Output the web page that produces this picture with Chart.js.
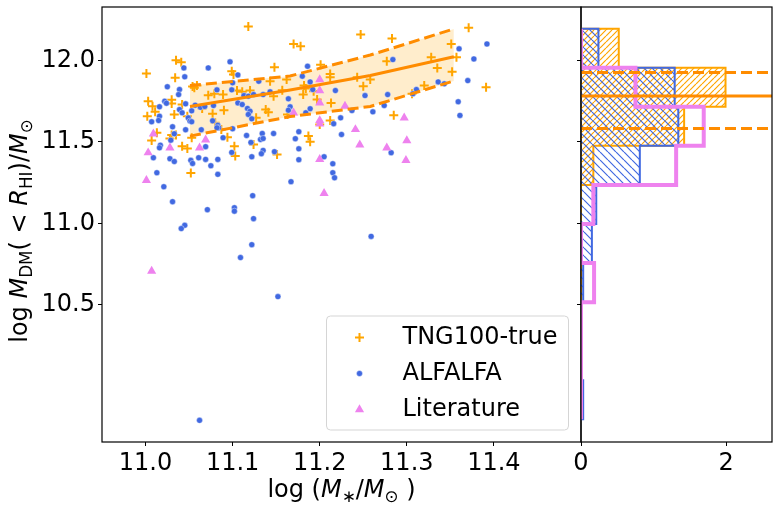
<!DOCTYPE html>
<html><head><meta charset="utf-8">
<script src="https://cdn.jsdelivr.net/npm/chart.js@4"></script>
<style>
html,body{margin:0;padding:0;background:#fff;}
#wrap{position:relative;width:778px;height:512px;}
canvas{position:absolute;left:0;top:0;}
</style></head><body>
<div id="wrap"><canvas id="main" width="778" height="512"></canvas><canvas id="hist" width="778" height="512"></canvas></div>
<script>
// ---------------- data ----------------
const tngX = [11.118,11.001,11.035,11.041,11.034,11.099,11.101,11.054,11.059,11.056,11.072,11.079,11.089,11.105,11.111,11.120,11.003,11.008,11.030,11.030,11.011,11.002,11.033,11.042,11.048,11.065,11.077,11.090,11.080,11.013,11.007,11.030,11.035,11.028,11.042,11.048,11.053,11.087,11.094,11.102,11.103,11.052,11.124,11.247,11.170,11.178,11.148,11.201,11.212,11.212,11.162,11.143,11.182,11.184,11.193,11.157,11.181,11.147,11.243,11.250,11.197,11.213,11.138,11.141,11.163,11.127,11.212,11.200,11.187,11.189,11.151,11.371,11.283,11.351,11.277,11.328,11.357,11.335,11.352,11.258,11.391,11.320,11.306,11.285];
const tngY = [12.209,11.920,12.002,11.990,11.894,11.934,11.914,11.840,11.847,11.833,11.787,11.796,11.791,11.816,11.808,11.816,11.750,11.720,11.759,11.736,11.685,11.658,11.669,11.730,11.658,11.706,11.673,11.695,11.618,11.556,11.509,11.542,11.542,11.521,11.474,11.460,11.526,11.577,11.529,11.474,11.413,11.309,11.485,12.160,12.102,12.088,11.959,11.975,11.918,11.898,11.883,11.873,11.847,11.828,11.812,11.818,11.791,11.781,11.898,11.842,11.761,11.740,11.699,11.683,11.669,11.648,11.632,11.607,11.536,11.501,11.423,12.201,12.135,12.102,11.996,12.020,12.020,11.955,11.931,11.883,11.836,11.847,11.796,11.664];

const alfalfaX = [11.097,11.072,11.044,11.045,11.106,11.025,11.100,11.039,11.038,11.082,11.099,11.113,11.118,11.124,11.022,11.024,11.046,11.057,11.063,11.068,11.078,11.106,11.111,11.016,11.039,11.042,11.053,11.117,11.120,11.118,11.122,11.016,11.015,11.007,11.049,11.051,11.053,11.077,11.083,11.084,11.082,11.031,11.046,11.064,11.100,11.033,11.029,11.089,11.069,11.017,11.016,11.121,11.116,11.099,11.009,11.028,11.033,11.052,11.054,11.061,11.069,11.083,11.075,11.122,11.013,11.083,11.021,11.031,11.123,11.071,11.102,11.102,11.124,11.045,11.041,11.186,11.180,11.189,11.130,11.143,11.135,11.192,11.218,11.252,11.164,11.166,11.164,11.184,11.189,11.237,11.224,11.216,11.134,11.147,11.132,11.135,11.176,11.172,11.225,11.176,11.135,11.133,11.148,11.176,11.205,11.215,11.215,11.217,11.167,11.360,11.392,11.284,11.377,11.370,11.336,11.343,11.311,11.307,11.278,11.274,11.261,11.359,11.361,11.282,11.122,11.109,11.152,11.062,11.259];
const alfalfaY = [11.992,11.955,11.955,11.900,11.912,11.839,11.863,11.822,11.791,11.820,11.820,11.785,11.781,11.791,11.750,11.738,11.734,11.726,11.713,11.718,11.724,11.740,11.730,11.716,11.699,11.679,11.691,11.706,11.689,11.669,11.642,11.658,11.632,11.624,11.648,11.628,11.624,11.630,11.603,11.587,11.587,11.593,11.575,11.575,11.581,11.550,11.511,11.526,11.471,11.480,11.464,11.497,11.540,11.436,11.403,11.397,11.380,11.387,11.368,11.403,11.393,11.393,11.354,11.409,11.311,11.301,11.225,11.133,11.170,11.084,11.096,11.075,11.029,10.988,10.968,11.965,11.904,11.869,11.873,11.808,11.791,11.822,11.816,11.785,11.765,11.716,11.695,11.679,11.704,11.693,11.648,11.612,11.552,11.552,11.515,11.521,11.563,11.520,11.546,11.458,11.448,11.428,11.440,11.391,11.409,11.366,11.311,11.280,11.256,12.072,12.102,12.006,12.010,11.877,11.869,11.857,11.822,11.796,11.791,11.724,11.685,11.747,11.663,11.434,10.869,10.790,10.550,9.790,10.920];

const litX = [11.009,11.003,11.028,11.062,11.069,11.001,11.200,11.200,11.200,11.229,11.170,11.200,11.200,11.241,11.246,11.200,11.205,11.297,11.300,11.277,11.299,11.007];
const litY = [11.550,11.434,11.464,11.464,11.513,11.264,11.883,11.816,11.740,11.720,11.679,11.632,11.612,11.577,11.482,11.393,11.184,11.648,11.509,11.464,11.387,10.707];

// running median and 16/84 percentile band of TNG100-true
const fitX   = [11.051, 11.166, 11.258, 11.354];
const fitMid = [11.718, 11.819, 11.908, 12.023];
const fitHi  = [11.847, 11.905, 12.034, 12.194];
const fitLo  = [11.536, 11.656, 11.718, 11.875];

// histograms (density), bins from top to bottom
const histEdges   = [12.196, 11.956, 11.716, 11.476, 11.236, 10.996, 10.756, 10.516, 10.276, 10.036, 9.796];
const tngHist     = [0.52, 1.99, 1.42, 0.17, 0, 0, 0, 0, 0, 0];
const alfalfaHist = [0.24, 1.29, 1.34, 0.81, 0.21, 0.15, 0.03, 0, 0, 0.03];
const litHist     = [0, 0.75, 1.69, 1.31, 0.17, 0, 0.18, 0, 0, 0];
const histMed = 11.783, histHi = 11.926, histLo = 11.583;

const xTicks = [11.0, 11.1, 11.2, 11.3, 11.4];
const yTicks = [10.5, 11.0, 11.5, 12.0];
const histTicks = [0, 2];

const X_MIN = 10.95, X_MAX = 11.5, Y_MIN = 9.657, Y_MAX = 12.329, H_MAX = 2.63;

// ---------------- helpers ----------------
const FAM = '"DejaVu Sans", sans-serif';
const FS = 24;
const pts = (xs, ys) => xs.map((x, i) => ({x, y: ys[i]}));
function stepPoly(edges, vals) {
  const p = [{x: 0, y: edges[0]}];
  vals.forEach((v, i) => { p.push({x: v, y: edges[i]}); p.push({x: v, y: edges[i + 1]}); });
  p.push({x: 0, y: edges[edges.length - 1]});
  return p;
}
function hatch(color, size, dir) {
  const c = document.createElement('canvas'); c.width = c.height = size;
  const g = c.getContext('2d'); g.strokeStyle = color; g.lineWidth = 1.2; g.beginPath();
  for (const k of [-size, 0, size]) {
    if (dir === '/') { g.moveTo(k, size); g.lineTo(k + size, 0); }
    else { g.moveTo(k, 0); g.lineTo(k + size, size); }
  }
  g.stroke();
  return g.createPattern(c, 'repeat');
}
function drawMath(ctx, segs, cx, by, size) {
  const fonts = segs.map(s => (s.it ? 'italic ' : '') + (s.sub ? size * 0.7 : size) + 'px ' + FAM);
  const widths = segs.map((s, i) => { ctx.font = fonts[i]; return ctx.measureText(s.t).width; });
  let x = cx - widths.reduce((a, b) => a + b, 0) / 2;
  ctx.textAlign = 'left'; ctx.textBaseline = 'alphabetic'; ctx.fillStyle = '#000';
  segs.forEach((s, i) => { ctx.font = fonts[i]; ctx.fillText(s.t, x, by + (s.sub ? size * 0.2 : 0)); x += widths[i]; });
}
const framePlugin = {
  id: 'frame',
  afterDraw(chart) {
    const a = chart.chartArea, ctx = chart.ctx;
    ctx.save(); ctx.strokeStyle = '#000'; ctx.lineWidth = 1.2;
    ctx.strokeRect(a.left, a.top, a.right - a.left, a.bottom - a.top);
    ctx.restore();
  }
};
const noPad = s => { s.paddingTop = 0; s.paddingBottom = 0; s.paddingLeft = 0; s.paddingRight = 0; };
const tickOpts = (list, fmt) => ({
  afterBuildTicks: s => { s.ticks = list.map(v => ({value: v})); },
  ticks: {font: {family: FAM, size: FS}, color: '#000', padding: 3, autoSkip: false, maxRotation: 0, callback: fmt},
  grid: {drawOnChartArea: false, drawTicks: true, tickLength: 4, color: '#000', lineWidth: 1},
  border: {display: false}
});

// ---------------- main scatter panel ----------------
const labelsPlugin = {
  id: 'mathLabels',
  afterDraw(chart) {
    const ctx = chart.ctx, a = chart.chartArea;
    ctx.save();
    drawMath(ctx, [{t: 'log ('}, {t: 'M', it: 1}, {t: '\u2217', sub: 1}, {t: '/'}, {t: 'M', it: 1}, {t: '\u2299', sub: 1}, {t: ' )'}],
      (a.left + a.right) / 2, 497, FS);
    ctx.translate(27, 231);
    ctx.rotate(-Math.PI / 2);
    drawMath(ctx, [{t: 'log '}, {t: 'M', it: 1}, {t: 'DM', sub: 1}, {t: '( < '}, {t: 'R', it: 1}, {t: 'HI', sub: 1}, {t: ')/'}, {t: 'M', it: 1}, {t: '\u2299', sub: 1}],
      0, 0, FS);
    ctx.restore();
  }
};
const legendPlugin = {
  id: 'boxLegend',
  afterDraw(chart) {
    const ctx = chart.ctx, a = chart.chartArea;
    const w = 242, h = 114, x0 = a.right - 12.5 - w, y0 = a.bottom - 12 - h;
    ctx.save();
    ctx.beginPath(); ctx.roundRect(x0, y0, w, h, 4);
    ctx.fillStyle = 'rgba(255,255,255,0.8)'; ctx.fill();
    ctx.strokeStyle = '#d5d5d5'; ctx.lineWidth = 1; ctx.stroke();
    [3, 4, 5].forEach((di, k) => {
      const ds = chart.data.datasets[di];
      const base = y0 + 27.5 + k * 36;
      ctx.fillStyle = ds.pointBackgroundColor; ctx.strokeStyle = ds.pointBorderColor; ctx.lineWidth = ds.pointBorderWidth;
      Chart.helpers.drawPoint(ctx, {pointStyle: ds.pointStyle, radius: ds.pointRadius, borderWidth: ds.pointBorderWidth, rotation: 0}, x0 + 33, base - 6);
      ctx.font = FS + 'px ' + FAM; ctx.fillStyle = '#000'; ctx.textAlign = 'left'; ctx.textBaseline = 'alphabetic';
      ctx.fillText(ds.label, x0 + 76, base);
    });
    ctx.restore();
  }
};

new Chart(document.getElementById('main'), {
  type: 'scatter',
  data: {datasets: [
    {type: 'line', label: 'p84', data: pts(fitX, fitHi), borderColor: 'darkorange', borderWidth: 3, borderDash: [11, 5],
     pointRadius: 0, tension: 0, fill: 1, backgroundColor: 'rgba(255,165,0,0.2)', order: 0},
    {type: 'line', label: 'p16', data: pts(fitX, fitLo), borderColor: 'darkorange', borderWidth: 3, borderDash: [11, 5],
     pointRadius: 0, tension: 0, fill: false, order: 0},
    {type: 'line', label: 'median', data: pts(fitX, fitMid), borderColor: 'darkorange', borderWidth: 3,
     pointRadius: 0, tension: 0, fill: false, order: 0},
    {label: 'TNG100-true', data: pts(tngX, tngY), pointStyle: 'cross', pointRadius: 4.5,
     pointBackgroundColor: 'orange', pointBorderColor: 'orange', pointBorderWidth: 2, order: 3},
    {label: 'ALFALFA', data: pts(alfalfaX, alfalfaY), pointStyle: 'circle', pointRadius: 3,
     pointBackgroundColor: 'royalblue', pointBorderColor: 'rgba(255,255,255,0.7)', pointBorderWidth: 0.6, order: 2},
    {label: 'Literature', data: pts(litX, litY), pointStyle: 'triangle', pointRadius: 5.3,
     pointBackgroundColor: 'violet', pointBorderColor: 'violet', pointBorderWidth: 0, order: 1}
  ]},
  options: {
    responsive: false, animation: false, events: [],
    layout: {autoPadding: false, padding: {left: 0, top: 7, right: 197, bottom: 0}},
    plugins: {legend: {display: false}, tooltip: {enabled: false}, filler: {drawTime: 'beforeDatasetsDraw'}},
    scales: {
      x: Object.assign({type: 'linear', min: X_MIN, max: X_MAX, afterFit: s => { s.height = 70; noPad(s); }}, tickOpts(xTicks, v => v.toFixed(1))),
      y: Object.assign({type: 'linear', min: Y_MIN, max: Y_MAX, afterFit: s => { s.width = 102; noPad(s); }}, tickOpts(yTicks, v => v.toFixed(1)))
    }
  },
  plugins: [framePlugin, labelsPlugin, legendPlugin]
});

// ---------------- side histogram panel ----------------
new Chart(document.getElementById('hist'), {
  type: 'scatter',
  data: {datasets: [
    {type: 'line', label: 'TNG100-true hist', data: stepPoly(histEdges, tngHist), borderColor: 'orange', borderWidth: 2,
     backgroundColor: hatch('orange', 6, '/'), fill: 'shape', pointRadius: 0, tension: 0, clip: 0, order: 3},
    {type: 'line', label: 'ALFALFA hist', data: stepPoly(histEdges, alfalfaHist), borderColor: 'royalblue', borderWidth: 2,
     backgroundColor: hatch('royalblue', 8, '\\'), fill: 'shape', pointRadius: 0, tension: 0, clip: 0, order: 2},
    {type: 'line', label: 'Literature hist', data: stepPoly(histEdges, litHist), borderColor: 'violet', borderWidth: 4,
     fill: false, pointRadius: 0, tension: 0, clip: 0, order: 1},
    {type: 'line', label: 'median', data: [{x: 0, y: histMed}, {x: H_MAX, y: histMed}], borderColor: 'darkorange', borderWidth: 3,
     pointRadius: 0, fill: false, order: 0},
    {type: 'line', label: 'p84', data: [{x: 0, y: histHi}, {x: H_MAX, y: histHi}], borderColor: 'darkorange', borderWidth: 3,
     borderDash: [11, 5], pointRadius: 0, fill: false, order: 0},
    {type: 'line', label: 'p16', data: [{x: 0, y: histLo}, {x: H_MAX, y: histLo}], borderColor: 'darkorange', borderWidth: 3,
     borderDash: [11, 5], pointRadius: 0, fill: false, order: 0}
  ]},
  options: {
    responsive: false, animation: false, events: [],
    layout: {autoPadding: false, padding: {left: 0, top: 7, right: 6, bottom: 0}},
    plugins: {legend: {display: false}, tooltip: {enabled: false}},
    scales: {
      x: Object.assign({type: 'linear', min: 0, max: H_MAX, afterFit: s => { s.height = 70; noPad(s); }}, tickOpts(histTicks, v => String(v))),
      y: Object.assign({type: 'linear', min: Y_MIN, max: Y_MAX, afterFit: s => { s.width = 581; noPad(s); }}, tickOpts(yTicks, () => ''))
    }
  },
  plugins: [framePlugin]
});
</script>
</body></html>
